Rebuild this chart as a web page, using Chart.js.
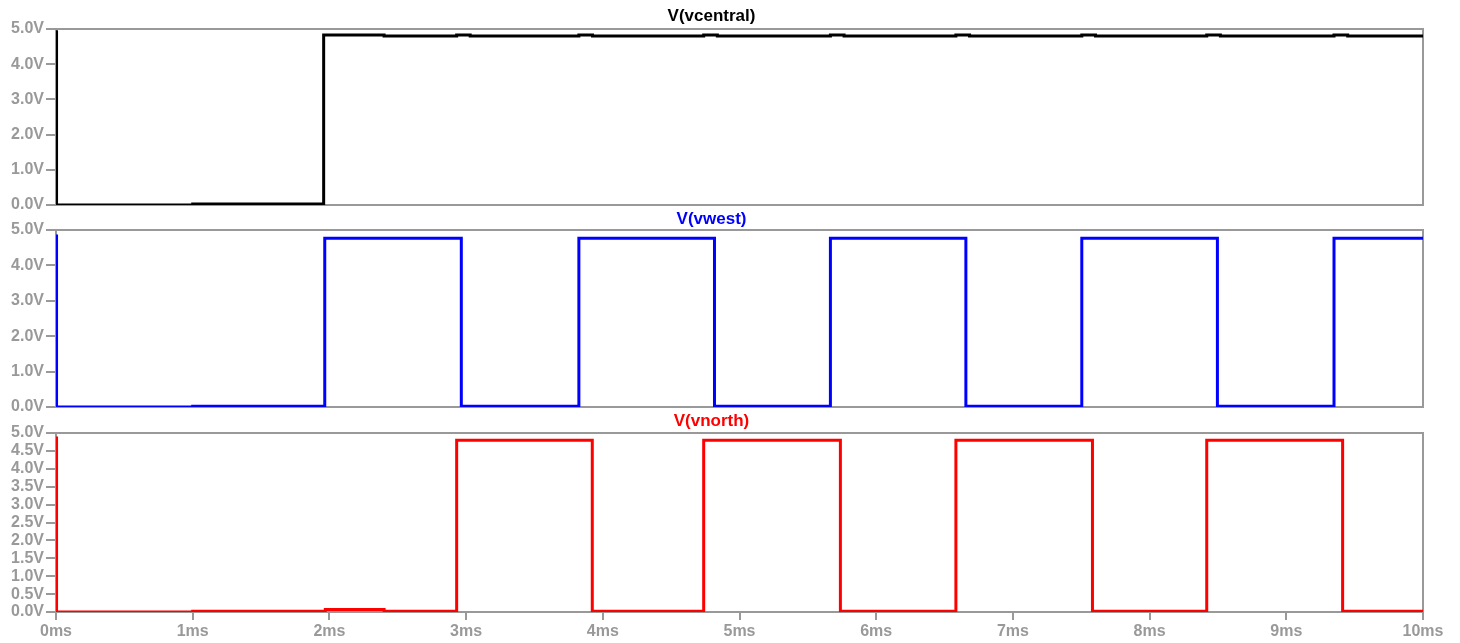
<!DOCTYPE html>
<html>
<head>
<meta charset="utf-8">
<script src="https://cdn.jsdelivr.net/npm/chart.js@4.4.1/dist/chart.umd.min.js"></script>
<style>
  html, body { margin: 0; padding: 0; background: #ffffff; }
  #wrap { position: relative; width: 1460px; height: 643px; overflow: hidden; }
  canvas { position: absolute; left: 0; }
</style>
</head>
<body>
<div id="wrap">
  <canvas id="cCentral" style="top:0px"></canvas>
  <canvas id="cWest" style="top:200px"></canvas>
  <canvas id="cNorth" style="top:400px"></canvas>
</div>
<script>
// Transient simulation traces: time (ms) at which each level begins, and the level (V)
const centralTimes = [0, 0.004, 1.0, 1.958, 2.40, 2.931, 3.03, 3.825, 3.925, 4.738, 4.838, 5.665, 5.765, 6.583, 6.683, 7.504, 7.604, 8.418, 8.518, 9.349, 9.449, 10];
const centralVolts = [4.92, 0.0, 0.03, 4.83, 4.80, 4.83, 4.80, 4.83, 4.80, 4.83, 4.80, 4.83, 4.80, 4.83, 4.80, 4.83, 4.80, 4.83, 4.80, 4.83, 4.80, 4.80];

const westTimes = [0, 0.004, 1.0, 1.966, 2.965, 3.825, 4.817, 5.665, 6.656, 7.504, 8.496, 9.349, 10];
const westVolts = [4.83, 0.0, 0.02, 4.77, 0.02, 4.77, 0.02, 4.77, 0.02, 4.77, 0.02, 4.77, 4.77];

const northTimes = [0, 0.004, 1.0, 1.97, 2.40, 2.931, 3.923, 4.738, 5.738, 6.583, 7.582, 8.418, 9.412, 10];
const northVolts = [4.86, 0.0, 0.02, 0.07, 0.02, 4.80, 0.02, 4.80, 0.02, 4.80, 0.02, 4.80, 0.02, 0.02];

// Axis ticks
const timeTicksMs = [0, 1, 2, 3, 4, 5, 6, 7, 8, 9, 10];
const voltStepCoarse = 1.0;
const voltStepFine = 0.5;

const GREY = '#999999';
const TICK_FONT = { family: '"Liberation Sans", Arial, sans-serif', size: 16, weight: 'bold' };
const TITLE_FONT = { family: '"Liberation Sans", Arial, sans-serif', size: 17, weight: 'bold', lineHeight: '18px' };

function toPoints(times, volts) {
  return times.map((t, i) => ({ x: t, y: volts[i] }));
}

// Grey frame around each plotting area, drawn under the traces
const framePlugin = {
  id: 'frame',
  beforeDatasetsDraw(chart) {
    const a = chart.chartArea;
    const ctx = chart.ctx;
    ctx.save();
    ctx.strokeStyle = GREY;
    ctx.lineWidth = 2;
    ctx.strokeRect(a.left, a.top, a.right - a.left, a.bottom - a.top);
    ctx.restore();
  }
};

function makePanel(canvasId, height, title, color, points, voltStep, showTime, titlePad, bottomPad) {
  const cv = document.getElementById(canvasId);
  cv.width = 1460;
  cv.height = height;
  cv.style.width = '1460px';
  cv.style.height = height + 'px';
  return new Chart(cv, {
    type: 'line',
    data: {
      datasets: [{
        label: title,
        data: points,
        borderColor: color,
        borderWidth: 3,
        pointRadius: 0,
        fill: false,
        stepped: true,
        tension: 0
      }]
    },
    options: {
      responsive: false,
      animation: false,
      devicePixelRatio: 1,
      layout: { padding: { left: 0, right: 37, top: 0, bottom: bottomPad } },
      plugins: {
        legend: { display: false },
        tooltip: { enabled: false },
        title: {
          display: true,
          text: title,
          color: color,
          font: TITLE_FONT,
          padding: titlePad
        }
      },
      scales: {
        x: {
          type: 'linear',
          min: 0,
          max: 10,
          display: showTime,
          afterBuildTicks(scale) { scale.ticks = timeTicksMs.map(v => ({ value: v })); },
          afterFit(scale) {
            if (showTime) scale.height = 31;
            scale.paddingLeft = 0;
            scale.paddingRight = 0;
          },
          border: { display: false },
          grid: { drawOnChartArea: false, drawTicks: true, tickLength: 8, color: GREY, lineWidth: 2 },
          ticks: {
            color: GREY,
            font: TICK_FONT,
            padding: 2,
            maxRotation: 0,
            autoSkip: false,
            callback: v => v + 'ms'
          }
        },
        y: {
          type: 'linear',
          min: 0,
          max: 5,
          afterFit(scale) {
            scale.width = 56;
            scale.paddingTop = 0;
            scale.paddingBottom = 0;
          },
          border: { display: false },
          grid: { drawOnChartArea: false, drawTicks: true, tickLength: 10, color: GREY, lineWidth: 2 },
          ticks: {
            stepSize: voltStep,
            color: GREY,
            font: TICK_FONT,
            padding: 2,
            autoSkip: false,
            callback: v => v.toFixed(1) + 'V'
          }
        }
      }
    },
    plugins: [framePlugin]
  });
}

makePanel('cCentral', 212, 'V(vcentral)', '#000000', toPoints(centralTimes, centralVolts),
  voltStepCoarse, false, { top: 7.5, bottom: 3.5 }, 7);
makePanel('cWest', 217, 'V(vwest)', '#0000ff', toPoints(westTimes, westVolts),
  voltStepCoarse, false, { top: 10.5, bottom: 1.5 }, 10);
makePanel('cNorth', 243, 'V(vnorth)', '#ff0000', toPoints(northTimes, northVolts),
  voltStepFine, true, { top: 12.5, bottom: 2.5 }, 0);
</script>
</body>
</html>
